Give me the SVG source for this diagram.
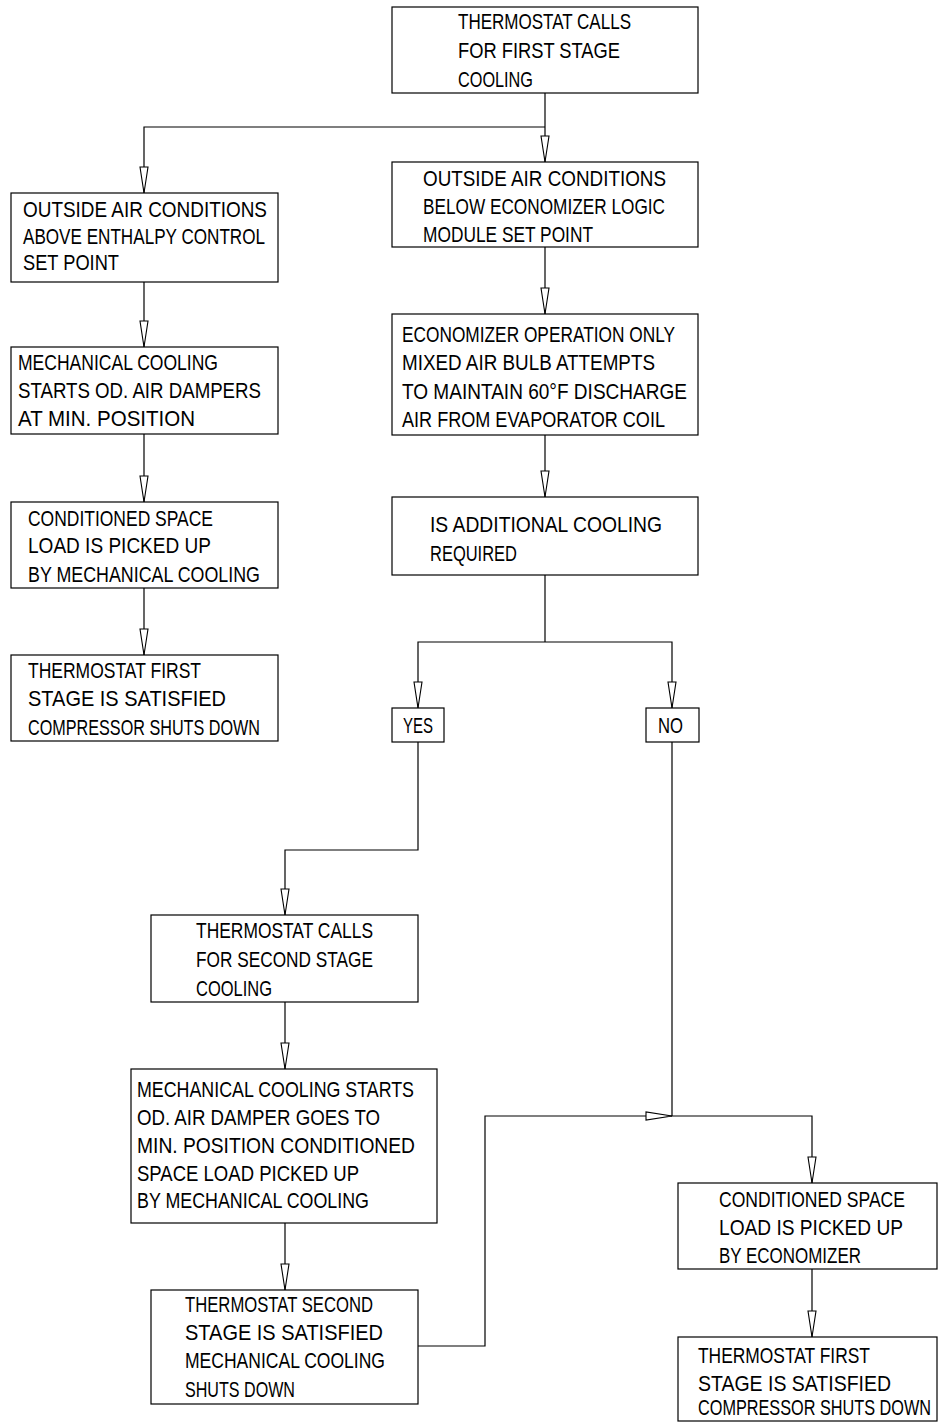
<svg xmlns="http://www.w3.org/2000/svg" width="938" height="1422" viewBox="0 0 938 1422">
<style>
rect.box{fill:#fff;stroke:#000;stroke-width:1.2}
text{font-family:"Liberation Sans",Arial,sans-serif;font-size:22px;fill:#000}
.c path{fill:none;stroke:#000;stroke-width:1.2}
</style>
<defs>
<marker id="ah" markerUnits="userSpaceOnUse" markerWidth="30" markerHeight="12" viewBox="-28 -6 30 12" refX="0" refY="0" orient="auto" overflow="visible">
<path d="M0,0 L-26,-4 L-26,4 Z" fill="#fff" stroke="#000" stroke-width="1.1"/>
</marker>
</defs>
<rect width="938" height="1422" fill="#fff"/>
<g class="c" id="connectors">
<path d="M545,93 V162" marker-end="url(#ah)"/>
<path d="M545,127 H144 V193" marker-end="url(#ah)"/>
<path d="M144,282 V347" marker-end="url(#ah)"/>
<path d="M144,434 V502" marker-end="url(#ah)"/>
<path d="M144,588 V655" marker-end="url(#ah)"/>
<path d="M545,247 V314" marker-end="url(#ah)"/>
<path d="M545,435 V497" marker-end="url(#ah)"/>
<path d="M545,575 V642"/>
<path d="M545,642 H418 V708" marker-end="url(#ah)"/>
<path d="M545,642 H672 V708" marker-end="url(#ah)"/>
<path d="M418,742 V850 H285 V915" marker-end="url(#ah)"/>
<path d="M285,1002 V1069" marker-end="url(#ah)"/>
<path d="M285,1223 V1290" marker-end="url(#ah)"/>
<path d="M418,1346 H485 V1116 H672" marker-end="url(#ah)"/>
<path d="M672,742 V1116 H812 V1183" marker-end="url(#ah)"/>
<path d="M812,1269 V1337" marker-end="url(#ah)"/>
</g>
<g id="n1">
<rect class="box" x="392" y="7" width="306" height="86"/>
<text x="458" y="29" textLength="173" lengthAdjust="spacingAndGlyphs">THERMOSTAT CALLS</text>
<text x="458" y="58" textLength="162" lengthAdjust="spacingAndGlyphs">FOR FIRST STAGE</text>
<text x="458" y="87" textLength="75" lengthAdjust="spacingAndGlyphs">COOLING</text>
</g>
<g id="l1">
<rect class="box" x="11" y="193" width="267" height="89"/>
<text x="23" y="217" textLength="244" lengthAdjust="spacingAndGlyphs">OUTSIDE AIR CONDITIONS</text>
<text x="23" y="244" textLength="242" lengthAdjust="spacingAndGlyphs">ABOVE ENTHALPY CONTROL</text>
<text x="23" y="270" textLength="96" lengthAdjust="spacingAndGlyphs">SET POINT</text>
</g>
<g id="l2">
<rect class="box" x="11" y="347" width="267" height="87"/>
<text x="18" y="370" textLength="200" lengthAdjust="spacingAndGlyphs">MECHANICAL COOLING</text>
<text x="18" y="398" textLength="243" lengthAdjust="spacingAndGlyphs">STARTS OD. AIR DAMPERS</text>
<text x="18" y="426" textLength="177" lengthAdjust="spacingAndGlyphs">AT MIN. POSITION</text>
</g>
<g id="l3">
<rect class="box" x="11" y="502" width="267" height="86"/>
<text x="28" y="526" textLength="185" lengthAdjust="spacingAndGlyphs">CONDITIONED SPACE</text>
<text x="28" y="553" textLength="183" lengthAdjust="spacingAndGlyphs">LOAD IS PICKED UP</text>
<text x="28" y="582" textLength="232" lengthAdjust="spacingAndGlyphs">BY MECHANICAL COOLING</text>
</g>
<g id="l4">
<rect class="box" x="11" y="655" width="267" height="86"/>
<text x="28" y="678" textLength="173" lengthAdjust="spacingAndGlyphs">THERMOSTAT FIRST</text>
<text x="28" y="706" textLength="198" lengthAdjust="spacingAndGlyphs">STAGE IS SATISFIED</text>
<text x="28" y="735" textLength="232" lengthAdjust="spacingAndGlyphs">COMPRESSOR SHUTS DOWN</text>
</g>
<g id="r2">
<rect class="box" x="392" y="162" width="306" height="85"/>
<text x="423" y="186" textLength="243" lengthAdjust="spacingAndGlyphs">OUTSIDE AIR CONDITIONS</text>
<text x="423" y="214" textLength="242" lengthAdjust="spacingAndGlyphs">BELOW ECONOMIZER LOGIC</text>
<text x="423" y="242" textLength="170" lengthAdjust="spacingAndGlyphs">MODULE SET POINT</text>
</g>
<g id="r3">
<rect class="box" x="392" y="314" width="306" height="121"/>
<text x="402" y="342" textLength="273" lengthAdjust="spacingAndGlyphs">ECONOMIZER OPERATION ONLY</text>
<text x="402" y="370" textLength="253" lengthAdjust="spacingAndGlyphs">MIXED AIR BULB ATTEMPTS</text>
<text x="402" y="399" textLength="285" lengthAdjust="spacingAndGlyphs">TO MAINTAIN 60°F DISCHARGE</text>
<text x="402" y="427" textLength="263" lengthAdjust="spacingAndGlyphs">AIR FROM EVAPORATOR COIL</text>
</g>
<g id="r4">
<rect class="box" x="392" y="497" width="306" height="78"/>
<text x="430" y="532" textLength="232" lengthAdjust="spacingAndGlyphs">IS ADDITIONAL COOLING</text>
<text x="430" y="561" textLength="87" lengthAdjust="spacingAndGlyphs">REQUIRED</text>
</g>
<g id="yes">
<rect class="box" x="392" y="708" width="52" height="34"/>
<text x="403" y="733" textLength="30" lengthAdjust="spacingAndGlyphs">YES</text>
</g>
<g id="no">
<rect class="box" x="646" y="708" width="53" height="34"/>
<text x="658" y="733" textLength="25" lengthAdjust="spacingAndGlyphs">NO</text>
</g>
<g id="s1">
<rect class="box" x="151" y="915" width="267" height="87"/>
<text x="196" y="938" textLength="177" lengthAdjust="spacingAndGlyphs">THERMOSTAT CALLS</text>
<text x="196" y="967" textLength="177" lengthAdjust="spacingAndGlyphs">FOR SECOND STAGE</text>
<text x="196" y="996" textLength="76" lengthAdjust="spacingAndGlyphs">COOLING</text>
</g>
<g id="s2">
<rect class="box" x="131" y="1069" width="306" height="154"/>
<text x="137" y="1097" textLength="277" lengthAdjust="spacingAndGlyphs">MECHANICAL COOLING STARTS</text>
<text x="137" y="1125" textLength="243" lengthAdjust="spacingAndGlyphs">OD. AIR DAMPER GOES TO</text>
<text x="137" y="1153" textLength="278" lengthAdjust="spacingAndGlyphs">MIN. POSITION CONDITIONED</text>
<text x="137" y="1181" textLength="222" lengthAdjust="spacingAndGlyphs">SPACE LOAD PICKED UP</text>
<text x="137" y="1208" textLength="232" lengthAdjust="spacingAndGlyphs">BY MECHANICAL COOLING</text>
</g>
<g id="s3">
<rect class="box" x="151" y="1290" width="267" height="114"/>
<text x="185" y="1312" textLength="188" lengthAdjust="spacingAndGlyphs">THERMOSTAT SECOND</text>
<text x="185" y="1340" textLength="198" lengthAdjust="spacingAndGlyphs">STAGE IS SATISFIED</text>
<text x="185" y="1368" textLength="200" lengthAdjust="spacingAndGlyphs">MECHANICAL COOLING</text>
<text x="185" y="1397" textLength="110" lengthAdjust="spacingAndGlyphs">SHUTS DOWN</text>
</g>
<g id="e1">
<rect class="box" x="678" y="1183" width="259" height="86"/>
<text x="719" y="1207" textLength="186" lengthAdjust="spacingAndGlyphs">CONDITIONED SPACE</text>
<text x="719" y="1235" textLength="184" lengthAdjust="spacingAndGlyphs">LOAD IS PICKED UP</text>
<text x="719" y="1263" textLength="142" lengthAdjust="spacingAndGlyphs">BY ECONOMIZER</text>
</g>
<g id="e2">
<rect class="box" x="678" y="1337" width="259" height="84"/>
<text x="698" y="1363" textLength="172" lengthAdjust="spacingAndGlyphs">THERMOSTAT FIRST</text>
<text x="698" y="1391" textLength="193" lengthAdjust="spacingAndGlyphs">STAGE IS SATISFIED</text>
<text x="698" y="1415" textLength="233" lengthAdjust="spacingAndGlyphs">COMPRESSOR SHUTS DOWN</text>
</g>
</svg>
